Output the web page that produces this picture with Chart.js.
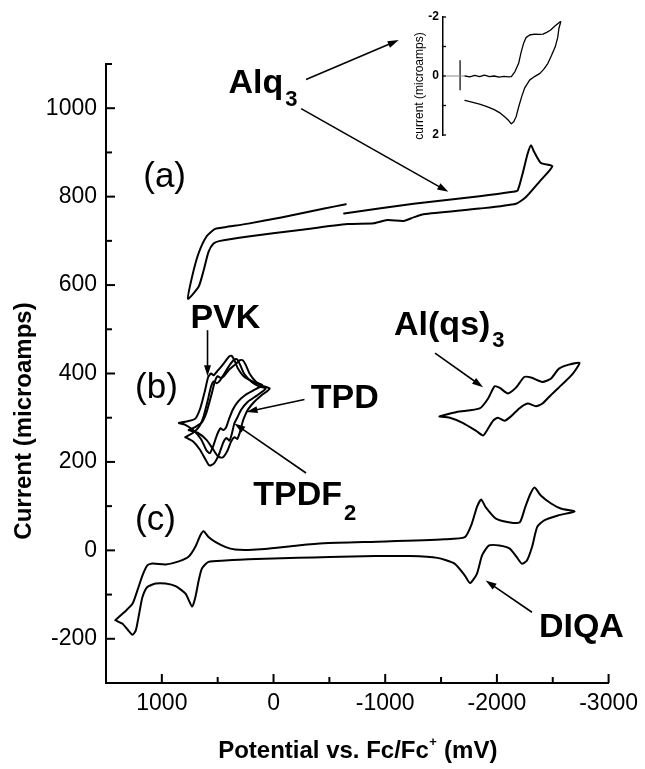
<!DOCTYPE html>
<html><head><meta charset="utf-8">
<script src="https://cdn.jsdelivr.net/npm/chart.js@4.4.1/dist/chart.umd.min.js"></script>
<style>
html,body{margin:0;padding:0;background:#fff;}
#wrap{position:relative;width:645px;height:769px;overflow:hidden;}
#main{position:absolute;left:0;top:0;}
#inset{position:absolute;left:380px;top:0;}
</style></head><body>
<div id="wrap"><canvas id="main" width="645" height="769"></canvas><canvas id="inset" width="200" height="150"></canvas></div>
<script>
// ---- axis ticks ----
const xTicks = [1000, 0, -1000, -2000, -3000];
const xMinorTicks = [500, -500, -1500, -2500];
const yTicks = [-200, 0, 200, 400, 600, 800, 1000];
const yMinorTicks = [-100, 100, 300, 500, 700, 900, 1100];

// ---- (a) Alq3 cyclic voltammogram [potential mV, current uA] ----
const alq3 = [[-647,783],[-455,773],[-69,753],[226,739],[434,731],[523,727],[597,711],[671,672],[730,618],[766,569],
  [671,596],[626,633],[582,675],[537,694],[478,700],[226,710],[-218,724],[-662,738],[-898,740],[-1017,747],[-1165,745],
  [-1254,753],[-1343,760],[-1845,773],[-2171,784],[-2260,799],[-2378,833],[-2497,869],[-2394,876],[-2334,901],[-2305,916],
  [-2275,897],[-2230,852],[-2186,814],[-2142,811],[-1845,801],[-1254,784],[-632,762]];

// ---- (b) PVK, TPDF2, TPD, Al(qs)3 ----
const pvk = [[848,288],[770,292],[700,298],[655,322],[615,360],[585,392],[560,400],[535,396],[505,405],[470,415],[430,428],
  [400,438],[375,440],[350,430],[320,412],[260,392],[170,380],[100,374],
  [180,362],[250,352],[320,336],[365,318],[400,296],[425,278],[450,272],[475,276],[505,262],[540,236],[570,220],[600,226],
  [650,252],[720,272],[790,284],[848,288]];
const tpdf2 = [[790,256],[720,266],[665,280],[625,304],[590,338],[560,370],[535,382],[510,378],[480,384],[440,400],[390,420],
  [350,432],[325,432],[300,420],[260,398],[190,380],[120,370],[70,366],
  [150,350],[230,336],[290,318],[325,300],[351,287],[375,262],[395,248],[420,254],[450,244],[490,216],[535,196],[575,192],
  [610,206],[660,228],[720,246],[790,256]];
const tpd = [[760,272],[695,280],[640,290],[600,312],[560,348],[525,382],[500,394],[475,390],[445,394],[400,408],[345,420],
  [300,430],[275,430],[250,420],[215,400],[160,382],[100,372],[34,366],
  [110,350],[180,334],[225,320],[250,308],[275,292],[300,268],[325,252],[350,256],[380,246],[415,224],[455,210],[495,212],
  [540,228],[600,250],[680,266],[760,272]];
const alqs3 = [[-1485,303],[-1639,313],[-1846,321],[-1920,343],[-1979,371],[-2023,368],[-2098,355],[-2171,368],[-2245,392],
  [-2305,391],[-2408,381],[-2482,388],[-2556,411],[-2645,420],[-2740,424],[-2675,398],[-2586,376],[-2482,351],[-2408,332],
  [-2349,326],[-2275,332],[-2200,321],[-2126,303],[-2067,293],[-2009,300],[-1965,293],[-1920,275],[-1876,260],[-1816,270],
  [-1698,288],[-1579,300],[-1485,303]];

// ---- (c) DIQA ----
const diqa = [[1417,-158],[1337,-140],[1263,-121],[1218,-90],[1174,-57],[1130,-34],[1085,-30],[966,-32],[848,-25],[759,-14],
  [700,8],[655,34],[626,43],[582,30],[522,19],[433,8],[345,2],[226,1],[78,3],[-218,11],[-448,16],[-1000,20],[-1528,25],
  [-1713,30],[-1775,60],[-1821,98],[-1859,115],[-1899,98],[-1991,72],[-2146,62],[-2207,64],[-2254,98],[-2300,128],
  [-2337,142],[-2393,124],[-2485,106],[-2578,94],[-2695,88],
  [-2547,79],[-2424,68],[-2361,53],[-2315,8],[-2269,-23],[-2223,-30],[-2177,-15],[-2115,4],[-2022,11],[-1930,11],
  [-1868,-11],[-1821,-53],[-1760,-74],[-1713,-57],[-1621,-30],[-1466,-17],[-1219,-13],[-911,-13],[-500,-15],[-218,-17],
  [226,-20],[433,-23],[582,-26],[641,-41],[670,-68],[700,-106],[729,-127],[788,-98],[877,-81],[966,-75],[1055,-75],
  [1130,-83],[1174,-106],[1203,-143],[1233,-181],[1263,-191],[1307,-179],[1352,-166],[1417,-158]];

// ---- inset (Alq3, low current) ----
const insetTicks = [-2, 0, 2];
const insetMinorTicks = [-1, 1];
const insetForward = [[18,0.0],[22,0.03],[26,-0.02],[30,0.02],[34,-0.03],[38,0.02],[42,0.0],[46,0.04],[50,0.01],[54,0.03],
  [56,0.02],[59,-0.15],[62,-0.43],[64,-0.8],[66,-1.1],[68,-1.3],[71,-1.39],[75,-1.42],[79,-1.41],[82,-1.42],[85,-1.48],
  [88,-1.55],[92,-1.7],[96,-1.84]];
const insetReverse = [[18,0.83],[22,0.87],[26,0.91],[30,0.95],[36,1.04],[42,1.14],[47,1.26],[51,1.4],[54,1.52],[56,1.62],
  [58,1.55],[60,1.37],[62,1.05],[64.5,0.7],[67,0.4],[71,0.14],[75,0.02],[79.5,-0.09],[83,-0.25],[86,-0.43],[89,-0.7],
  [92,-0.99],[94,-1.3],[95,-1.61],[96.5,-1.84]];
const insetZero = [[3,0],[18,0]];
const insetMarker = [[14,-0.52],[14,0.47]];

// ---- annotations (in data coordinates) ----
const textLabels = [
  {text:'Alq', sub:'3', x:404, y:1035, size:34, bold:true, subSize:22, subDy:13},
  {text:'(a)', x:975, y:844, size:35, center:true},
  {text:'(b)', x:1048, y:367, size:35, center:true},
  {text:'(c)', x:1057, y:68, size:35, center:true},
  {text:'PVK', x:744, y:502, size:34, bold:true},
  {text:'TPD', x:-333, y:321, size:34, bold:true},
  {text:'TPDF', sub:'2', x:182, y:102, size:34, bold:true, subSize:22, subDy:15},
  {text:'Al(qs)', sub:'3', x:-1079, y:486, size:34, bold:true, subSize:22, subDy:12},
  {text:'DIQA', x:-2376, y:-197, size:34, bold:true}
];
const arrows = [
  {from:[-291,1065], to:[-1121,1154]},
  {from:[-247,999], to:[-1565,811]},
  {from:[591,498], to:[591,394]},
  {from:[-277,341], to:[242,313]},
  {from:[-291,175], to:[351,287]},
  {from:[-1446,446], to:[-1876,369]},
  {from:[-2314,-140], to:[-1899,-68]}
];

const FF = '"Liberation Sans", Arial, Helvetica, sans-serif';
const pts = a => a.map(p => ({x:p[0], y:p[1]}));
const line = (a, opts) => Object.assign({data:pts(a), showLine:true, pointRadius:0, borderColor:'#000', borderWidth:2,
  tension:0.2, fill:false, clip:false, borderJoinStyle:'round', borderCapStyle:'round'}, opts||{});

function drawArrow(ctx, x1, y1, x2, y2) {
  const a = Math.atan2(y2 - y1, x2 - x1), L = 11, W = 3.5;
  ctx.beginPath(); ctx.moveTo(x1, y1); ctx.lineTo(x2 - L*0.5*Math.cos(a), y2 - L*0.5*Math.sin(a)); ctx.stroke();
  ctx.beginPath(); ctx.moveTo(x2, y2);
  ctx.lineTo(x2 - L*Math.cos(a) + W*Math.sin(a), y2 - L*Math.sin(a) - W*Math.cos(a));
  ctx.lineTo(x2 - L*Math.cos(a) - W*Math.sin(a), y2 - L*Math.sin(a) + W*Math.cos(a));
  ctx.closePath(); ctx.fill();
}

const decor = {
  id:'decor',
  afterDraw(chart) {
    const ctx = chart.ctx, xs = chart.scales.x, ys = chart.scales.y, ca = chart.chartArea;
    ctx.save();
    ctx.strokeStyle = '#000'; ctx.fillStyle = '#000'; ctx.lineWidth = 2; ctx.lineCap = 'butt';
    // inward ticks
    const tk = (vals, len, horiz) => vals.forEach(v => {
      ctx.beginPath();
      if (horiz) { const p = xs.getPixelForValue(v); ctx.moveTo(p, ca.bottom); ctx.lineTo(p, ca.bottom - len); }
      else { const p = ys.getPixelForValue(v); ctx.moveTo(ca.left, p); ctx.lineTo(ca.left + len, p); }
      ctx.stroke();
    });
    tk(xTicks, 9, true); tk(xMinorTicks, 6, true); tk(yTicks, 9, false); tk(yMinorTicks, 6, false);
    // axis titles
    ctx.font = 'bold 24px ' + FF; ctx.textBaseline = 'alphabetic';
    ctx.save(); ctx.translate(31, 421); ctx.rotate(-Math.PI/2); ctx.textAlign = 'center';
    ctx.fillText('Current (microamps)', 0, 0); ctx.restore();
    const t1 = 'Potential vs. Fc/Fc', t2 = '+', t3 = ' (mV)';
    ctx.font = 'bold 24px ' + FF; const w1 = ctx.measureText(t1).width, w3 = ctx.measureText(t3).width;
    ctx.font = 'bold 13px ' + FF; const w2 = ctx.measureText(t2).width;
    let sx = (ca.left + ca.right)/2 - (w1 + w2 + w3)/2, by = 758;
    ctx.textAlign = 'left';
    ctx.font = 'bold 24px ' + FF; ctx.fillText(t1, sx, by);
    ctx.font = 'bold 13px ' + FF; ctx.fillText(t2, sx + w1 + 0.5, by - 12);
    ctx.font = 'bold 24px ' + FF; ctx.fillText(t3, sx + w1 + w2 + 1, by);
    // labels
    textLabels.forEach(l => {
      const px = xs.getPixelForValue(l.x), py = ys.getPixelForValue(l.y);
      ctx.font = (l.bold ? 'bold ' : '') + l.size + 'px ' + FF;
      if (l.center) { ctx.textAlign = 'center'; ctx.textBaseline = 'middle'; ctx.fillText(l.text, px, py); return; }
      ctx.textAlign = 'left'; ctx.textBaseline = 'alphabetic';
      ctx.fillText(l.text, px, py);
      if (l.sub) {
        const w = ctx.measureText(l.text).width;
        ctx.font = 'bold ' + l.subSize + 'px ' + FF;
        ctx.fillText(l.sub, px + w + 2, py + l.subDy);
      }
    });
    // arrows
    ctx.lineWidth = 1.6;
    arrows.forEach(a => drawArrow(ctx, xs.getPixelForValue(a.from[0]), ys.getPixelForValue(a.from[1]),
      xs.getPixelForValue(a.to[0]), ys.getPixelForValue(a.to[1])));
    ctx.restore();
  }
};

new Chart(document.getElementById('main'), {
  type:'scatter',
  data:{datasets:[line(alq3), line(pvk), line(tpdf2), line(tpd), line(alqs3), line(diqa)]},
  options:{
    responsive:false, animation:false, devicePixelRatio:1,
    layout:{padding:{top:64, right:32, left:0, bottom:0}},
    plugins:{legend:{display:false}, tooltip:{enabled:false}},
    scales:{
      x:{type:'linear', reverse:true, min:-3000, max:1500,
        afterBuildTicks:s => { s.ticks = xTicks.map(v => ({value:v})); },
        afterFit:s => { s.height = 86; },
        grid:{display:false, drawTicks:false, tickLength:0},
        border:{display:true, color:'#000', width:2},
        ticks:{color:'#000', font:{family:FF, size:23}, padding:7, maxRotation:0, autoSkip:false, callback:v => String(v)}},
      y:{type:'linear', min:-300, max:1100,
        afterBuildTicks:s => { s.ticks = yTicks.map(v => ({value:v})); },
        afterFit:s => { s.width = 106; },
        grid:{display:false, drawTicks:false, tickLength:0},
        border:{display:true, color:'#000', width:2},
        ticks:{color:'#000', font:{family:FF, size:23}, padding:9, autoSkip:false, callback:v => String(v)}}
    }
  },
  plugins:[decor]
});

const insetDecor = {
  id:'insetDecor',
  afterDraw(chart) {
    const ctx = chart.ctx, ys = chart.scales.y, ca = chart.chartArea;
    ctx.save(); ctx.strokeStyle = '#000'; ctx.lineWidth = 1.3;
    insetTicks.concat(insetMinorTicks).forEach(v => {
      const p = ys.getPixelForValue(v);
      ctx.beginPath(); ctx.moveTo(ca.left, p); ctx.lineTo(ca.left + 3, p); ctx.stroke();
    });
    ctx.fillStyle = '#000'; ctx.font = '12px ' + FF; ctx.textAlign = 'center'; ctx.textBaseline = 'middle';
    ctx.translate(40, 86); ctx.rotate(-Math.PI/2); ctx.fillText('current (microamps)', 0, 0);
    ctx.restore();
  }
};

new Chart(document.getElementById('inset'), {
  type:'scatter',
  data:{datasets:[
    line(insetZero, {borderColor:'#8a8a8a', borderWidth:1, tension:0}),
    line(insetMarker, {borderWidth:1.2, tension:0}),
    line(insetForward, {borderWidth:1.3, tension:0}),
    line(insetReverse, {borderWidth:1.3, tension:0})
  ]},
  options:{
    responsive:false, animation:false, devicePixelRatio:1,
    layout:{padding:{top:17, right:15, left:0, bottom:15}},
    plugins:{legend:{display:false}, tooltip:{enabled:false}},
    scales:{
      x:{type:'linear', min:0, max:100, display:false},
      y:{type:'linear', min:-2, max:2, reverse:true,
        afterBuildTicks:s => { s.ticks = insetTicks.map(v => ({value:v})); },
        afterFit:s => { s.width = 63; },
        grid:{display:false, drawTicks:false, tickLength:0},
        border:{display:true, color:'#000', width:1.5},
        ticks:{color:'#000', font:{family:FF, size:12, weight:'bold'}, padding:4, autoSkip:false, callback:v => String(v)}}
    }
  },
  plugins:[insetDecor]
});
</script>
</body></html>
